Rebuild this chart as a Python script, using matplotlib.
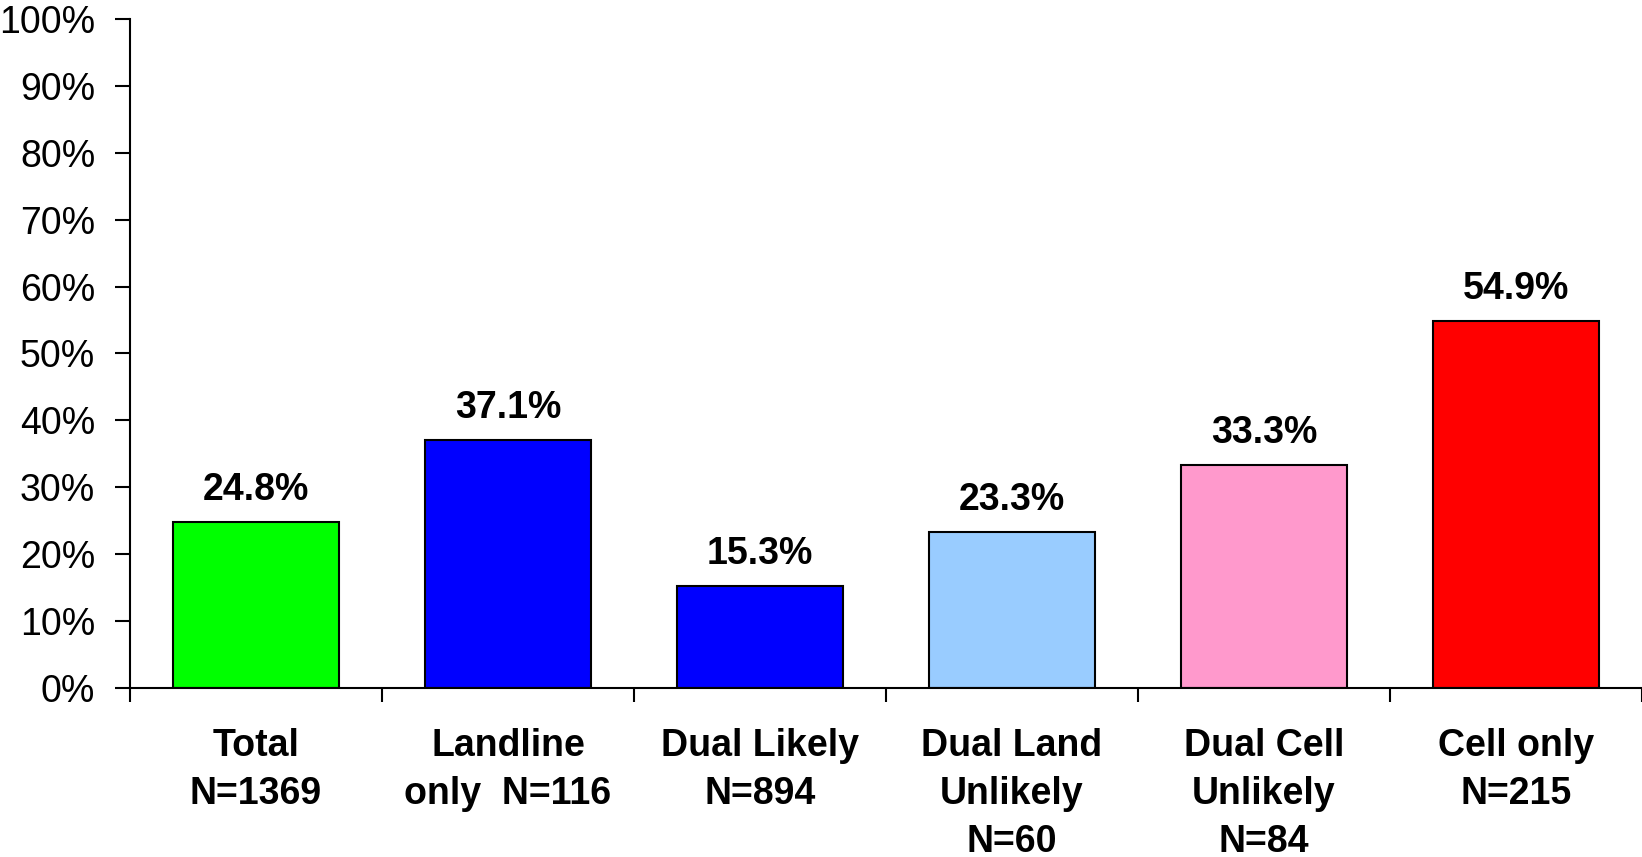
import matplotlib
matplotlib.use("Agg")
import matplotlib.pyplot as plt
from matplotlib.ticker import MultipleLocator, PercentFormatter

categories = ["Total\nN=1369", "Landline\nonly  N=116", "Dual Likely\nN=894",
              "Dual Land\nUnlikely\nN=60", "Dual Cell\nUnlikely\nN=84", "Cell only\nN=215"]
values = [24.8, 37.1, 15.3, 23.3, 33.3, 54.9]
colors = ["#00FF00", "#0000FF", "#0000FF", "#99CCFF", "#FF99CC", "#FF0000"]

plt.rcParams['font.family'] = ['Liberation Sans', 'DejaVu Sans']

fig = plt.figure(figsize=(16.42, 8.57), dpi=100)
ax = fig.add_axes([130 / 1642, 1 - 688 / 857, 1 - 130 / 1642, (688 - 19) / 857])

x = list(range(len(values)))
bars = ax.bar(x, values, width=0.66, color=colors, edgecolor="black", linewidth=1.5)

for xi, v in zip(x, values):
    ax.annotate(f"{v:.1f}%", (xi, v), xytext=(0, 10), textcoords="offset points",
                ha="center", va="bottom", fontsize=27, fontweight="bold")

ax.set_xlim(-0.5, 5.5)
ax.set_ylim(0, 100)
ax.yaxis.set_major_locator(MultipleLocator(10))
ax.yaxis.set_major_formatter(PercentFormatter(decimals=0))

ax.set_xticks(x)
ax.set_xticklabels(categories, fontsize=27, fontweight="bold", linespacing=1.42)
ax.set_xticks([i - 0.5 for i in range(len(values) + 1)], minor=True)
ax.tick_params(axis="x", which="major", length=0, pad=29)
ax.tick_params(axis="x", which="minor", length=10, width=1.5, direction="out")
ax.tick_params(axis="y", labelsize=27, length=11, width=1.5, direction="out", pad=14)

ax.spines["top"].set_visible(False)
ax.spines["right"].set_visible(False)
ax.spines["left"].set_linewidth(1.5)
ax.spines["bottom"].set_linewidth(1.5)

fig.savefig("out.png", dpi=100)
